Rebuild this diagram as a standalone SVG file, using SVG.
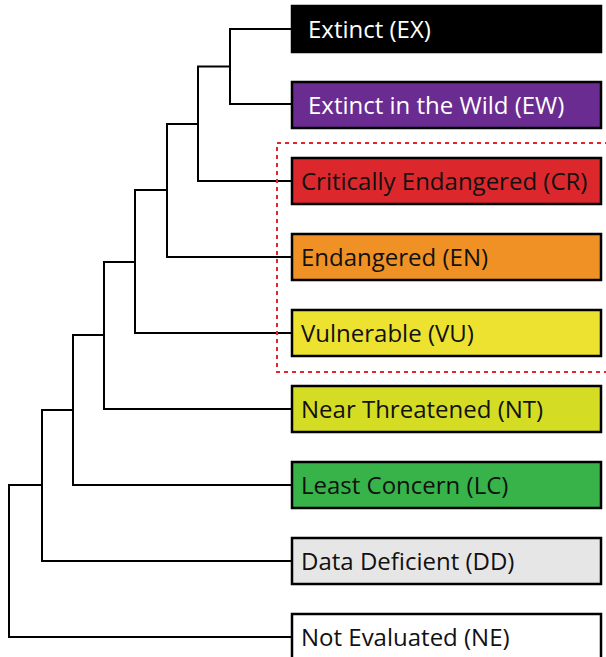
<svg xmlns="http://www.w3.org/2000/svg" width="606" height="657" viewBox="0 0 606 657">
<style>
.box{stroke:#000;stroke-width:2.5}
.lbl{font-family:"Open Sans","Liberation Sans",sans-serif;font-size:24px;fill:#111}
.w{fill:#fff}
.edge{fill:none;stroke:#000;stroke-width:2}
</style>
<rect width="606" height="657" fill="#fff"/>
<g id="connectors">
<path class="edge" d="M292 29H230V104H292M230 66.5H198V181H292M198 124H167V257H292M167 190H135V333H292M135 262H104V409H292M104 335H73V485H292M73 410H42V561H292M42 485H9V637H292"/>
</g>
<rect id="threatened-group" x="277" y="143" width="335" height="229" fill="none" stroke="#e0262b" stroke-width="2" stroke-dasharray="4,4"/>
<g id="EX"><rect class="box" x="292" y="6" width="309" height="46" fill="#000"/><text class="lbl w" x="308" y="37.5">Extinct (EX)</text></g>
<g id="EW"><rect class="box" x="292" y="82" width="309" height="46" fill="#6a2c91"/><text class="lbl w" x="308" y="113.5">Extinct in the Wild (EW)</text></g>
<g id="CR"><rect class="box" x="292" y="158" width="309" height="46" fill="#dc282c"/><text class="lbl" x="301" y="189.5">Critically Endangered (CR)</text></g>
<g id="EN"><rect class="box" x="292" y="234" width="309" height="46" fill="#f09125"/><text class="lbl" x="301" y="265.5">Endangered (EN)</text></g>
<g id="VU"><rect class="box" x="292" y="310" width="309" height="46" fill="#ede230"/><text class="lbl" x="301" y="341.5">Vulnerable (VU)</text></g>
<g id="NT"><rect class="box" x="292" y="386" width="309" height="46" fill="#d4dc24"/><text class="lbl" x="301" y="417.5">Near Threatened (NT)</text></g>
<g id="LC"><rect class="box" x="292" y="462" width="309" height="46" fill="#37b34a"/><text class="lbl" x="301" y="493.5">Least Concern (LC)</text></g>
<g id="DD"><rect class="box" x="292" y="538" width="309" height="46" fill="#e6e6e6"/><text class="lbl" x="301" y="569.5">Data Deficient (DD)</text></g>
<g id="NE"><rect class="box" x="292" y="614" width="309" height="60" fill="#fff"/><text class="lbl" x="301" y="645.5">Not Evaluated (NE)</text></g>
</svg>
